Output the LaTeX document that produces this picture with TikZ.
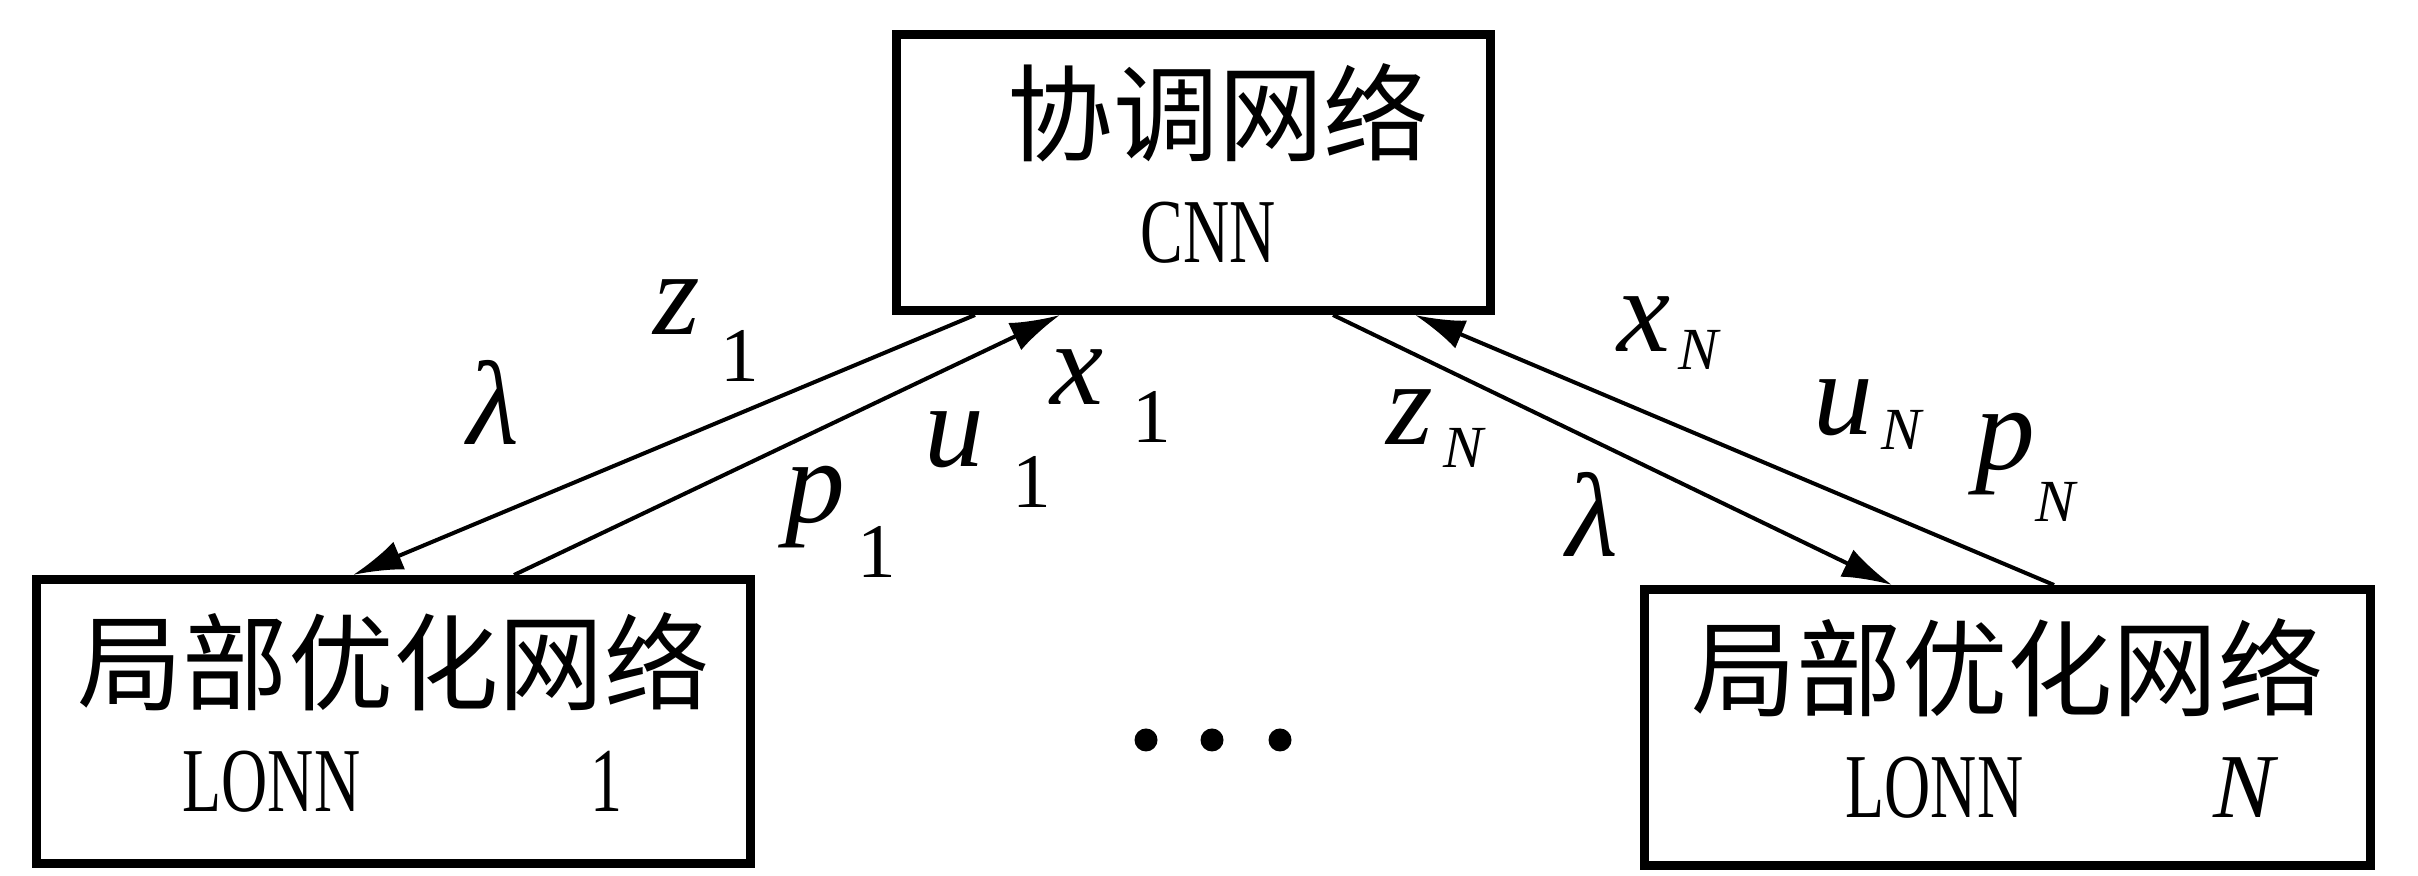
\documentclass[tikz,border=0pt]{standalone}
\usepackage{fontspec}
\setmainfont{Liberation Serif}
\newfontfamily\cjk{Noto Sans CJK SC}
\newfontfamily\narrowfont{Liberation Serif}[FakeStretch=0.7]
\usetikzlibrary{arrows.meta, positioning, calc}

% main letter with a lowered subscript
\newcommand{\lab}[4]{\textit{#1}\hspace{#3}\raisebox{-#4}{#2}}
\newcommand{\one}{\fontsize{22}{22}\selectfont 1}
\newcommand{\enn}{\fontsize{17}{17}\selectfont\itshape N}

\begin{document}
\begin{tikzpicture}[
                box/.style={rectangle, draw, line width=0.09cm, fill=white, align=center, inner sep=0pt,
                            font=\fontsize{26}{31}\selectfont},
                arrow/.style={line width=0.04cm, -{Latex[length=0.5cm, width=0.3cm]}},
                lbl/.style={anchor=base west, inner sep=0pt, font=\fontsize{34}{34}\selectfont}
            ]
                \useasboundingbox (0,0) rectangle (24.18,-8.76);

                % Nodes
                \node (cnn) [box, minimum width=5.94cm, minimum height=2.76cm] at (11.935,-1.725)
                    {\hspace*{0.5cm}{\cjk\fontsize{30}{31}\selectfont 协调网络}\\
                     \hspace*{0.3cm}{\narrowfont CNN}\vphantom{g}};
                \node (lonn1) [box, minimum width=7.14cm, minimum height=2.84cm] at (3.935,-7.215)
                    {{\cjk\fontsize{30}{31}\selectfont 局部优化网络}\\
                     \hspace*{0.18cm}{\narrowfont LONN}\hspace{2.3cm}{\narrowfont 1}\vphantom{g}};
                \node (lonnN) [box, minimum width=7.26cm, minimum height=2.76cm] at (20.075,-7.275)
                    {{\cjk\fontsize{30}{31}\selectfont 局部优化网络}\\
                     \hspace*{1.09cm}{\narrowfont LONN}\hspace{1.9cm}\textit{N}\vphantom{g}};

                % Arrows
                \draw [arrow] ([xshift=0.83cm]cnn.south west) -- ([xshift=3.21cm]lonn1.north west);
                \draw [arrow] ([xshift=4.82cm]lonn1.north west) -- ([xshift=1.68cm]cnn.south west);
                \draw [arrow] ([xshift=4.41cm]cnn.south west) -- ([xshift=2.52cm]lonnN.north west);
                \draw [arrow] ([xshift=4.14cm]lonnN.north west) -- ([xshift=5.23cm]cnn.south west);

                % Labels
                \node (z1) [lbl] at (6.53,-3.35) {\lab{z}{\one}{0.2cm}{0.47cm}};
                \node (lam1) [lbl] at (4.67,-4.45) {\textit{λ}};
                \node (p1) [lbl] at (7.85,-5.23) {\lab{p}{\one}{0.12cm}{0.55cm}};
                \node (u1) [lbl] at (9.24,-4.67) {\lab{u}{\one}{0.28cm}{0.41cm}};
                \node (x1) [lbl] at (10.50,-4.05) {\lab{x}{\one}{0.29cm}{0.38cm}};
                \node (zN) [lbl] at (13.86,-4.45) {\lab{z}{\enn}{0.10cm}{0.23cm}};
                \node (lamN) [lbl] at (15.66,-5.57) {\textit{λ}};
                \node (xN) [lbl] at (16.17,-3.52) {\lab{x}{\enn}{0.08cm}{0.18cm}};
                \node (uN) [lbl] at (18.13,-4.35) {\lab{u}{\enn}{0.08cm}{0.15cm}};
                \node (pN) [lbl] at (19.75,-4.70) {\lab{p}{\enn}{0cm}{0.52cm}};

                % Dots
                \foreach \x in {11.46,12.12,12.80}
                    \fill (\x,-7.40) circle (0.115);
            \end{tikzpicture}
\end{document}
